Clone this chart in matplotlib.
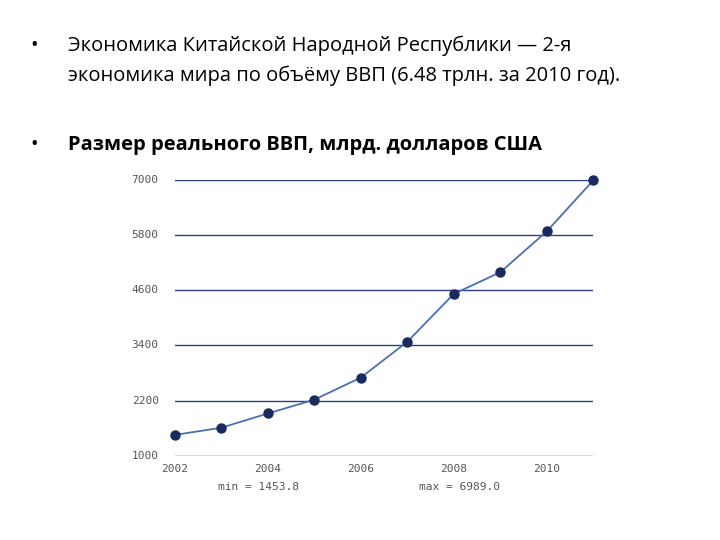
import matplotlib
matplotlib.use("Agg")
import matplotlib.pyplot as plt

years = [2002, 2003, 2004, 2005, 2006, 2007, 2008, 2009, 2010, 2011]
gdp = [1453.8, 1610, 1920, 2220, 2700, 3480, 4520, 4990, 5880, 6989.0]
yticks = [1000, 2200, 3400, 4600, 5800, 7000]
xticks = [2002, 2004, 2006, 2008, 2010]

fig = plt.figure(figsize=(7.2, 5.4), dpi=100)
fs = 14.5
fig.text(0.042, 0.905, "•", fontsize=fs, family="Open Sans")
fig.text(0.095, 0.905, "Экономика Китайской Народной Республики — 2-я", fontsize=fs, family="Open Sans")
fig.text(0.095, 0.85, "экономика мира по объёму ВВП (6.48 трлн. за 2010 год).", fontsize=fs, family="Open Sans")
fig.text(0.042, 0.722, "•", fontsize=fs, family="Open Sans")
fig.text(0.095, 0.722, "Размер реального ВВП, млрд. долларов США", fontsize=fs, fontweight="bold", family="Open Sans")

ax = fig.add_axes([0.243, 0.156, 0.581, 0.511])
ax.plot(years, gdp, color="#4a6fb5", lw=1.3, marker="o", ms=6.5,
        markerfacecolor="#1b2a5e", markeredgecolor="#1b2a5e", clip_on=False, zorder=3)
ax.set_xlim(2002, 2011)
ax.set_ylim(1000, 7000)
for y in yticks:
    ax.axhline(y, color="#2a3f80", lw=1, zorder=0)
    ax.text(2002 - 0.35, y, str(y), ha="right", va="center",
            fontsize=8, family="DejaVu Sans Mono", color="#555555")
ax.set_yticks([])
ax.set_xticks(xticks)
ax.set_xticklabels([str(x) for x in xticks], fontsize=8, family="DejaVu Sans Mono", color="#555555")
ax.tick_params(axis="x", length=0, pad=6)
for s in ax.spines.values():
    s.set_visible(False)
ax.text(0.2, -0.095, "min = 1453.8", transform=ax.transAxes, ha="center", va="top",
        fontsize=8, family="DejaVu Sans Mono", color="#555555")
ax.text(0.68, -0.095, "max = 6989.0", transform=ax.transAxes, ha="center", va="top",
        fontsize=8, family="DejaVu Sans Mono", color="#555555")
fig.savefig("out.png", dpi=100)
